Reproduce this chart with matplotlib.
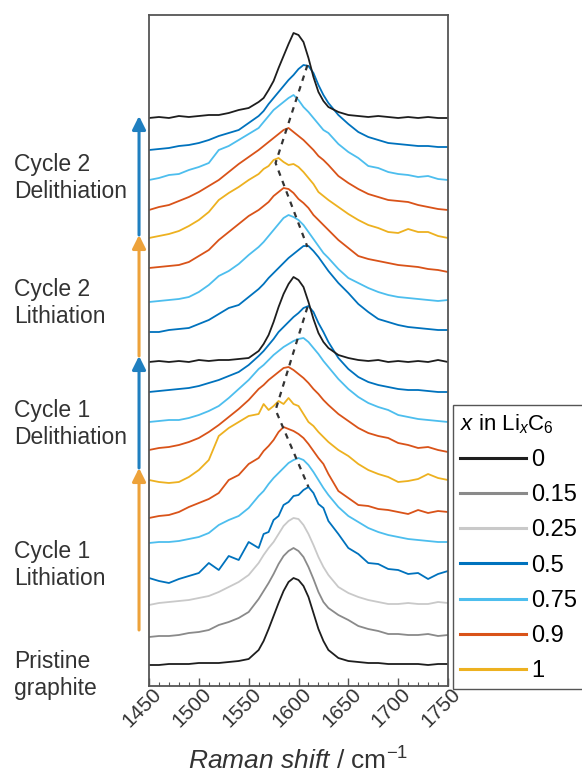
import matplotlib
matplotlib.use("Agg")
import matplotlib.pyplot as plt
import matplotlib.transforms as mtransforms
from matplotlib.lines import Line2D
from matplotlib.ticker import MultipleLocator

plt.rcParams["font.family"] = ["Liberation Sans", "DejaVu Sans"]
plt.rcParams["mathtext.fontset"] = "custom"
plt.rcParams["mathtext.rm"] = "Liberation Sans"
plt.rcParams["mathtext.it"] = "Liberation Sans:italic"

# Raman shift grid (cm-1)
shift = [1450, 1460, 1470, 1480, 1490, 1500, 1510, 1520, 1530, 1540, 1550, 1560,
         1565, 1570, 1575, 1580, 1585, 1590, 1595, 1600, 1605, 1610, 1615, 1620, 1625, 1630,
         1640, 1650, 1660, 1670, 1680, 1690, 1700, 1710, 1720, 1730, 1740, 1750]

# spectra from bottom (pristine) to top (end of cycle 2), intensity above own baseline
spectra = [
    [0, 0, 1, 1, 1, 2, 2, 2, 3, 4, 6, 15,
     24, 36, 49, 62, 74, 83, 87, 85, 79, 68, 52, 36, 24, 15,
     7, 4, 3, 2, 2, 1, 1, 1, 1, 0, 1, 1],
    [0, 1, 1, 2, 4, 5, 7, 12, 15, 19, 25, 38,
     46, 54, 63, 73, 81, 86, 89, 86, 80, 70, 58, 45, 35, 29,
     22, 17, 11, 8, 6, 3, 3, 2, 2, 3, 1, 2],
    [0, 2, 3, 4, 5, 7, 9, 13, 18, 23, 30, 42,
     50, 57, 63, 71, 79, 84, 87, 86, 80, 71, 60, 48, 38, 30,
     18, 12, 8, 5, 3, 1, 1, 2, 1, 1, 3, 2],
    [0, -3, -5, -1, 2, 5, 15, 8, 22, 18, 36, 30,
     44, 46, 58, 62, 73, 76, 82, 83, 88, 91, 85, 74, 70, 57,
     44, 30, 24, 15, 14, 9, 8, 4, 5, -1, 4, 7],
    [0, 1, 1, 2, 4, 6, 10, 18, 23, 27, 35, 47,
     52, 59, 65, 70, 75, 80, 83, 85, 83, 78, 71, 63, 55, 48,
     36, 27, 21, 15, 11, 8, 6, 4, 3, 2, 1, 1],
    [0, 2, 3, 6, 11, 15, 19, 25, 38, 43, 54, 60,
     67, 72, 78, 86, 91, 89, 87, 84, 80, 74, 67, 60, 54, 44,
     27, 20, 13, 12, 9, 8, 6, 4, 8, 5, 7, 6],
    [0, -2, -3, -2, 3, 10, 20, 44, 52, 58, 64, 66,
     76, 70, 74, 79, 76, 82, 76, 74, 66, 58, 54, 48, 43, 38,
     30, 24, 16, 10, 6, 3, -2, -1, 1, 6, 2, 0],
    [0, 2, 3, 5, 8, 12, 18, 25, 33, 41, 50, 61,
     65, 70, 74, 78, 82, 83, 80, 76, 72, 67, 61, 56, 50, 45,
     36, 29, 22, 17, 14, 12, 7, 5, 2, 3, 0, -2],
    [0, 1, 2, 2, 4, 7, 11, 16, 24, 33, 42, 53,
     57, 62, 67, 71, 75, 78, 81, 83, 84, 80, 74, 68, 61, 55,
     43, 33, 25, 19, 15, 12, 7, 5, 3, 2, 1, 0],
    [0, 1, 2, 3, 4, 6, 9, 12, 16, 20, 27, 36,
     41, 47, 53, 60, 65, 70, 75, 79, 84, 86, 80, 69, 60, 50,
     34, 23, 15, 10, 7, 5, 3, 2, 2, 1, 0, 0],
    [0, 1, 0, 1, 0, 2, 1, 2, 2, 3, 4, 11,
     18, 27, 40, 55, 68, 78, 85, 82, 75, 60, 43, 29, 20, 14,
     7, 4, 2, 1, 2, 0, 1, 0, 1, 0, 2, 0],
    [0, 0, 2, 3, 4, 8, 12, 18, 24, 27, 35, 43,
     48, 54, 59, 64, 69, 74, 78, 82, 86, 86, 81, 75, 68, 61,
     49, 39, 28, 20, 13, 10, 7, 5, 4, 3, 2, 2],
    [0, 1, 2, 3, 5, 10, 17, 26, 31, 38, 47, 55,
     60, 66, 72, 78, 84, 87, 85, 82, 77, 70, 63, 56, 49, 44,
     33, 24, 19, 14, 10, 7, 5, 4, 3, 2, 1, 2],
    [0, 1, 2, 3, 6, 12, 18, 28, 36, 44, 52, 58,
     62, 66, 72, 76, 80, 79, 75, 69, 65, 60, 53, 48, 43, 38,
     28, 20, 12, 9, 7, 5, 3, 2, 1, -1, -2, -4],
    [0, 2, 4, 7, 12, 18, 26, 38, 45, 51, 58, 64,
     69, 72, 78, 80, 76, 73, 74, 71, 66, 60, 54, 46, 42, 38,
     31, 24, 18, 13, 10, 6, 5, 9, 6, 6, 2, 0],
    [0, 3, 5, 9, 13, 18, 24, 30, 38, 46, 53, 60,
     64, 68, 72, 76, 80, 82, 78, 74, 70, 65, 60, 54, 50, 45,
     34, 27, 21, 16, 13, 10, 9, 8, 5, 3, 1, 0],
    [0, 2, 5, 6, 10, 13, 17, 30, 34, 40, 46, 52,
     58, 64, 70, 74, 78, 82, 85, 80, 73, 68, 62, 56, 50, 47,
     36, 28, 22, 14, 12, 8, 6, 5, 3, 4, 1, 0],
    [0, 1, 2, 4, 5, 7, 10, 14, 17, 20, 27, 34,
     39, 46, 52, 58, 64, 70, 75, 81, 85, 84, 77, 65, 55, 47,
     35, 26, 18, 13, 10, 7, 6, 5, 4, 4, 3, 3],
    [0, 1, 0, 2, 1, 2, 3, 3, 5, 8, 10, 16,
     20, 28, 37, 50, 62, 74, 85, 83, 76, 60, 41, 26, 17, 11,
     6, 3, 2, 1, 2, 1, 0, 1, 0, 1, 0, 0],
]

# lithium content of each spectrum and vertical offsets of the stack
li_content = [0, 0.15, 0.25, 0.5, 0.75, 0.9, 1, 0.9, 0.75, 0.5, 0,
              0.5, 0.75, 0.9, 1, 0.9, 0.75, 0.5, 0]
offsets = [21, 49, 81, 108, 143, 168, 206, 236, 264, 294, 324,
           354, 384, 418, 448, 476, 506, 536, 568]

legend_values = [0, 0.15, 0.25, 0.5, 0.75, 0.9, 1]
legend_labels = ["0", "0.15", "0.25", "0.5", "0.75", "0.9", "1"]
colors = {0: "#1e1e1e", 0.15: "#8a8a8a", 0.25: "#c9c9c9", 0.5: "#0072BD",
          0.75: "#4DBEEE", 0.9: "#D95319", 1: "#EDB120"}

# dashed guides through the peak maxima
guide1_x = [1609, 1577, 1610]
guide1_y = [379, 276, 199]
guide2_x = [1609, 1577, 1609]
guide2_y = [621, 523, 439]

fig = plt.figure(figsize=(5.82, 7.75), dpi=100)
ax = fig.add_axes([149 / 582, 1 - 686 / 775, 299 / 582, 671 / 775])

for vals, xli, off in zip(spectra, li_content, offsets):
    ax.plot(shift, [v + off for v in vals], color=colors[xli], lw=1.3)

ax.plot(guide1_x, guide1_y, ls=(0, (2.5, 2.5)), color="#333333", lw=1.6)
ax.plot(guide2_x, guide2_y, ls=(0, (2.5, 2.5)), color="#333333", lw=1.6)

ax.set_xlim(1450, 1750)
ax.set_ylim(0, 671)
ax.set_yticks([])
ax.xaxis.set_major_locator(MultipleLocator(50))
ax.xaxis.set_minor_locator(MultipleLocator(10))
ax.tick_params(axis="x", which="both", direction="in", colors="#555555",
               labelcolor="#333333", labelsize=15)
ax.tick_params(axis="x", which="major", length=6, width=1)
ax.tick_params(axis="x", which="minor", length=3, width=0.8)
for sp in ax.spines.values():
    sp.set_color("#555555")
    sp.set_linewidth(1.3)

offset = mtransforms.ScaledTranslation(7 / 72, 0 / 72, fig.dpi_scale_trans)
for lab in ax.get_xticklabels():
    lab.set_rotation(45)
    lab.set_ha("right")
    lab.set_va("center")
    lab.set_rotation_mode("anchor")
    lab.set_transform(lab.get_transform() + offset)

ax.set_xlabel(r"$\it{Raman\ shift\ /}$ cm$^{-1}$", fontsize=19, color="#333333", va="top")
ax.xaxis.set_label_coords(0.5, -0.092)

# cycle arrows on the left
arrows = [("#EDA23A", 56, 218), ("#1F7FC0", 218, 330),
          ("#EDA23A", 330, 451), ("#1F7FC0", 451, 570)]
for c, y0, y1 in arrows:
    ax.annotate("", xy=(1440, y1), xytext=(1440, y0),
                arrowprops=dict(arrowstyle="-|>", color=c, lw=2.2,
                                mutation_scale=20, shrinkA=0, shrinkB=0),
                annotation_clip=False)

labels = [("Cycle 2\nDelithiation", 178), ("Cycle 2\nLithiation", 303),
          ("Cycle 1\nDelithiation", 424), ("Cycle 1\nLithiation", 565),
          ("Pristine\ngraphite", 675)]
for txt, py in labels:
    fig.text(14 / 582, 1 - py / 775, txt, fontsize=16.5, color="#333333",
             ha="left", va="center", linespacing=1.25)

handles = [Line2D([], [], color=colors[v], lw=2.2) for v in legend_values]
leg = ax.legend(handles, legend_labels, title=r"$x$ in Li$_x$C$_6$",
                loc="upper left", bbox_to_anchor=(453 / 582, 1 - 405 / 775),
                bbox_transform=fig.transFigure, fontsize=17, title_fontsize=16,
                frameon=True, fancybox=False, edgecolor="#555555", framealpha=1,
                handlelength=2.8, handletextpad=0.2, labelspacing=0.56,
                borderpad=0.3, borderaxespad=0, alignment="left")
leg.get_frame().set_linewidth(1.0)

fig.savefig("out.png", dpi=100)
